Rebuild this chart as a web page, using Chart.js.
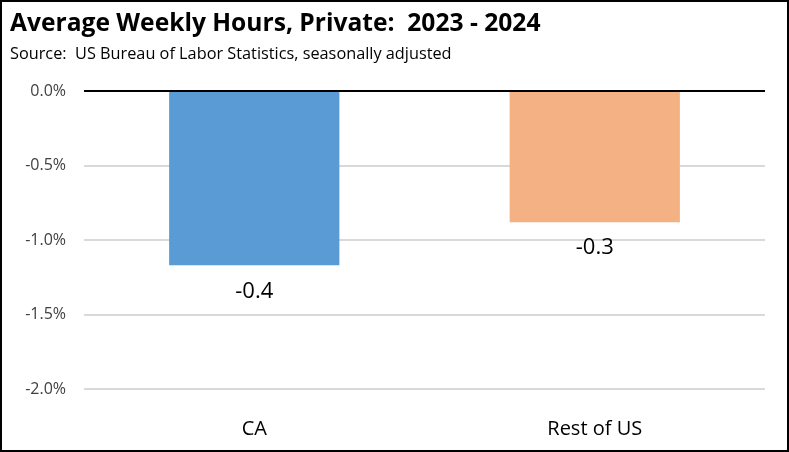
<!DOCTYPE html>
<html>
<head>
<meta charset="utf-8">
<script src="https://cdn.jsdelivr.net/npm/chart.js@4/dist/chart.umd.min.js"></script>
<style>
  html, body { margin: 0; padding: 0; background: #fff; }
  #wrap { width: 789px; height: 452px; border: 2px solid #000; box-sizing: border-box; }
  canvas { display: block; }
</style>
</head>
<body>
<div id="wrap"><canvas id="graph" width="785" height="448"></canvas></div>
<script>
// data
var categories = ['CA', 'Rest of US'];
var pctChange = [-1.17, -0.88];      // bar length, percent
var hourLabels = ['-0.4', '-0.3'];   // text under each bar (hours)
var barColors = ['#5B9BD5', '#F4B183'];
var yMin = -2.0, yMax = 0.0, yStep = 0.5;

var FONT = "'Open Sans', 'Noto Sans', sans-serif";

// labels under the bar ends
var barLabels = {
  id: 'barLabels',
  afterDatasetsDraw: function(chart) {
    var ctx = chart.ctx;
    var meta = chart.getDatasetMeta(0);
    ctx.save();
    ctx.font = '22px ' + FONT;
    ctx.fillStyle = '#000';
    ctx.textAlign = 'center';
    ctx.textBaseline = 'middle';
    meta.data.forEach(function(bar, i) {
      ctx.fillText(hourLabels[i], bar.x, bar.y + 26);
    });
    ctx.restore();
  }
};

new Chart(document.getElementById('graph'), {
  type: 'bar',
  data: {
    labels: categories,
    datasets: [{
      data: pctChange,
      backgroundColor: barColors,
      borderWidth: 0,
      categoryPercentage: 1.0,
      barPercentage: 0.5
    }]
  },
  options: {
    responsive: false,
    animation: false,
    layout: { padding: { top: 7, left: 8, right: 22, bottom: 0 } },
    plugins: {
      legend: { display: false },
      tooltip: { enabled: false },
      title: {
        display: true,
        align: 'start',
        text: 'Average Weekly Hours, Private:  2023 - 2024',
        color: '#000',
        font: { family: FONT, size: 24.6, weight: 'bold' },
        padding: { top: 0, bottom: 0 }
      },
      subtitle: {
        display: true,
        align: 'start',
        text: 'Source:  US Bureau of Labor Statistics, seasonally adjusted',
        color: '#000',
        font: { family: FONT, size: 16.3 },
        padding: { top: 6, bottom: 27 }
      }
    },
    scales: {
      x: {
        grid: { display: false },
        border: { display: false },
        ticks: { color: '#000', font: { family: FONT, size: 20 }, padding: 20 },
        afterFit: function(scale) { scale.height = 61; }
      },
      y: {
        min: yMin,
        max: yMax,
        border: { display: false },
        grid: {
          drawTicks: false,
          color: function(c) { return c.tick && c.tick.value === 0 ? '#000' : '#d9d9d9'; },
          lineWidth: 2
        },
        ticks: {
          stepSize: yStep,
          padding: 18,
          color: '#404040',
          font: { family: FONT, size: 16 },
          callback: function(v) { return v.toFixed(1) + '%'; }
        },
        afterFit: function(scale) { scale.width = 74; }
      }
    }
  },
  plugins: [barLabels]
});
</script>
</body>
</html>
